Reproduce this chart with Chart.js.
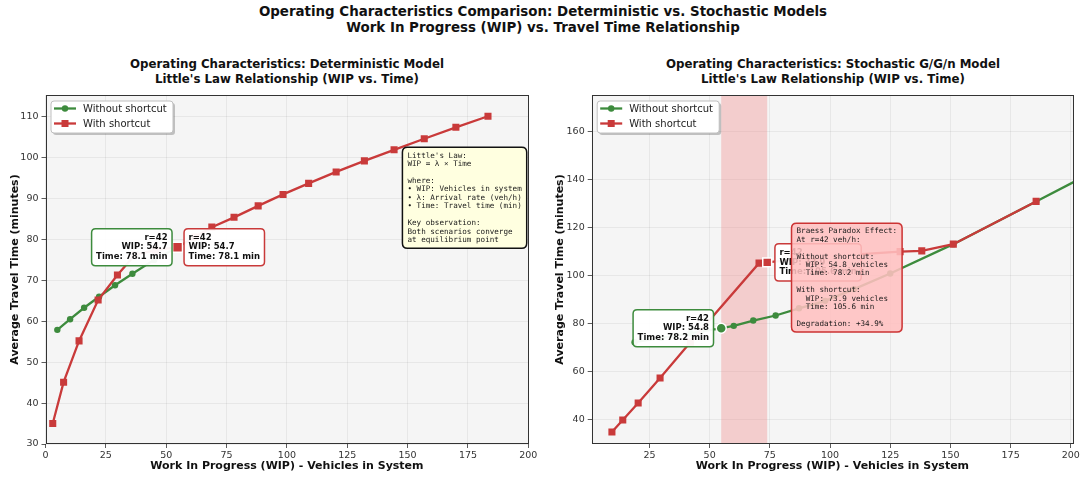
<!DOCTYPE html>
<html><head><meta charset="utf-8">
<script src="https://cdn.jsdelivr.net/npm/chart.js@4.4.1/dist/chart.umd.min.js"></script>
<style>
html,body{margin:0;padding:0;background:#fff;}
body{width:1081px;height:477px;overflow:hidden;position:relative;font-family:'DejaVu Sans',sans-serif;}
.t{position:absolute;text-align:center;font-weight:bold;color:#111;white-space:nowrap;transform:translateX(-50%);}
canvas{position:absolute;top:0;}
</style></head><body>
<div class="t" style="left:543px;top:4px;font-size:13.4px;line-height:16px">Operating Characteristics Comparison: Deterministic vs. Stochastic Models<br>Work In Progress (WIP) vs. Travel Time Relationship</div>
<div class="t" style="left:287px;top:57px;font-size:11.8px;line-height:15px">Operating Characteristics: Deterministic Model<br>Little's Law Relationship (WIP vs. Time)</div>
<div class="t" style="left:833px;top:57px;font-size:11.8px;line-height:15px">Operating Characteristics: Stochastic G/G/n Model<br>Little's Law Relationship (WIP vs. Time)</div>
<canvas id="c1" width="545" height="477" style="left:0"></canvas>
<canvas id="c2" width="536" height="477" style="left:545px"></canvas>
<script>
// ---------------- data ----------------
const rate = 42;
// Deterministic model
const detNoShortcutWIP  = [4.9, 10.2, 16.0, 22.2, 28.8, 36.0, 45.0, 54.7];
const detNoShortcutTime = [57.9, 60.5, 63.3, 66.0, 68.8, 71.6, 75.0, 78.1];
const detShortcutWIP  = [3.0, 7.5, 13.9, 21.8, 29.8, 37.0, 45.5, 54.7, 62.0, 68.9, 78.1, 88.1, 98.4, 109.0, 120.4, 132.1, 144.4, 156.9, 170.0, 183.3];
const detShortcutTime = [35.0, 45.1, 55.2, 65.2, 71.3, 76.2, 77.4, 78.1, 80.6, 83.0, 85.4, 88.2, 91.0, 93.7, 96.5, 99.2, 101.9, 104.6, 107.4, 110.1];
const detPointNoShortcut = [54.7, 78.1];
const detPointShortcut   = [54.7, 78.1];
// Stochastic G/G/n model
const stoNoShortcutWIP  = [18.8, 30.0, 42.0, 55.0, 60.0, 68.1, 77.4, 87.1, 98.0, 110.0, 125.0, 151.2, 185.6, 222.0];
const stoNoShortcutTime = [72.4, 74.2, 76.1, 78.2, 79.2, 81.4, 83.5, 86.5, 89.6, 94.5, 101.0, 113.2, 131.0, 149.8];
const stoShortcutWIP  = [9.4, 13.9, 20.3, 29.4, 42.0, 70.5, 100.0, 129.1, 138.1, 151.2, 185.6];
const stoShortcutTime = [35.0, 40.0, 47.1, 57.5, 72.4, 105.3, 108.2, 110.1, 110.4, 113.2, 131.0];
const stoPointNoShortcut = [54.8, 78.2];
const stoPointShortcut   = [73.9, 105.6];
const stoDegradation = '+34.9%';
// tick labels
const detXTicks = [0, 25, 50, 75, 100, 125, 150, 175, 200];
const detYTicks = [30, 40, 50, 60, 70, 80, 90, 100, 110];
const stoXTicks = [25, 50, 75, 100, 125, 150, 175, 200];
const stoYTicks = [40, 60, 80, 100, 120, 140, 160];
// axis ranges
const detXRange = [0, 200];
const detYRange = [30, 115.3];
const stoXRange = [1, 201];
const stoYRange = [30, 175.3];

// ---------------- style ----------------
const FONT = "'DejaVu Sans', sans-serif";
const MONO = "'DejaVu Sans Mono', monospace";
const GREEN = '#3d8b3d';
const RED = '#c93a3a';

function pts(xs, ys){ return xs.map((x,i)=>({x:x, y:ys[i]})); }
function seriesDS(label, xs, ys, color, style, r, order){
  return {label, data: pts(xs,ys), borderColor: color, backgroundColor: color,
    borderWidth: 2.3, pointStyle: style, pointRadius: r, pointHoverRadius: r,
    pointBorderWidth: 0, showLine: true, fill: false, tension: 0, order};
}
function markDS(p, color, style, r){
  return {label: '_mark', data: [{x:p[0], y:p[1]}], borderColor: '#fff', backgroundColor: color,
    pointStyle: style, pointRadius: r, pointHoverRadius: r, pointBorderWidth: 1.5, showLine: false, order: 0};
}
function rr(ctx, x, y, w, h, r){
  ctx.beginPath();
  ctx.moveTo(x+r, y); ctx.lineTo(x+w-r, y); ctx.quadraticCurveTo(x+w, y, x+w, y+r);
  ctx.lineTo(x+w, y+h-r); ctx.quadraticCurveTo(x+w, y+h, x+w-r, y+h);
  ctx.lineTo(x+r, y+h); ctx.quadraticCurveTo(x, y+h, x, y+h-r);
  ctx.lineTo(x, y+r); ctx.quadraticCurveTo(x, y, x+r, y); ctx.closePath();
}

const bgPlugin = {
  id: 'bgArea',
  beforeDraw(chart){
    const {ctx, chartArea:a} = chart;
    ctx.save(); ctx.fillStyle = '#f5f5f5'; ctx.fillRect(a.left, a.top, a.width, a.height); ctx.restore();
  },
  afterDraw(chart){
    const {ctx, chartArea:a} = chart;
    ctx.save(); ctx.strokeStyle = '#333'; ctx.lineWidth = 1;
    ctx.strokeRect(Math.round(a.left)+0.5, Math.round(a.top)+0.5, Math.round(a.width)-1, Math.round(a.height)-1);
    ctx.restore();
  }
};
function bandPlugin(range, color){
  return {
    id: 'band',
    beforeDatasetsDraw(chart){
      const {ctx, chartArea:a, scales:{x}} = chart;
      const x0 = x.getPixelForValue(range[0]), x1 = x.getPixelForValue(range[1]);
      ctx.save(); ctx.fillStyle = color; ctx.fillRect(x0, a.top, x1-x0, a.height); ctx.restore();
    }
  };
}
function notesPlugin(boxes){
  return {
    id: 'notes',
    afterDatasetsDraw(chart){
      const ctx = chart.ctx, a = chart.chartArea, xs = chart.scales.x, ys = chart.scales.y;
      boxes.forEach(b => {
        ctx.save();
        ctx.font = b.font;
        const w = Math.max(...b.lines.map(l => ctx.measureText(l).width)) + 2*b.padX;
        const h = b.lines.length*b.lh + 2*b.padY;
        let left, top;
        if (b.at) {
          const px = xs.getPixelForValue(b.at[0]), py = ys.getPixelForValue(b.at[1]);
          left = b.side === 'left' ? px - b.gap - w : px + b.gap;
          top = py - h/2;
        } else {
          left = a.left + b.fx*a.width - (b.anchorRight ? w : 0);
          top = a.top + b.fy*a.height;
        }
        rr(ctx, left, top, w, h, b.radius);
        ctx.fillStyle = b.bg; ctx.fill();
        ctx.lineWidth = b.bw; ctx.strokeStyle = b.stroke; ctx.stroke();
        ctx.fillStyle = b.ink;
        ctx.textBaseline = 'middle';
        ctx.textAlign = b.align;
        const tx = b.align === 'right' ? left + w - b.padX : left + b.padX;
        b.lines.forEach((l,i) => ctx.fillText(l, tx, top + b.padY + b.lh*(i+0.5)));
        ctx.restore();
      });
    }
  };
}
function legendPlugin(items){
  return {
    id: 'boxLegend',
    afterDraw(chart){
      const {ctx, chartArea:a} = chart;
      const L = a.left + 5.5, T = a.top + 6, W = 122, H = 32;
      ctx.save();
      ctx.fillStyle = 'rgba(0,0,0,0.22)';
      rr(ctx, L+2, T+2, W, H, 3); ctx.fill();
      rr(ctx, L, T, W, H, 3);
      ctx.fillStyle = '#fff'; ctx.fill();
      ctx.strokeStyle = '#c0c0c0'; ctx.lineWidth = 1; ctx.stroke();
      ctx.font = '10px ' + FONT; ctx.textBaseline = 'middle'; ctx.textAlign = 'left';
      items.forEach((it, i) => {
        const y = T + 7.5 + i*15;
        ctx.strokeStyle = it.color; ctx.lineWidth = 2.3;
        ctx.beginPath(); ctx.moveTo(L+3, y); ctx.lineTo(L+25, y); ctx.stroke();
        ctx.fillStyle = it.color;
        if (it.style === 'circle') { ctx.beginPath(); ctx.arc(L+14, y, 3.2, 0, Math.PI*2); ctx.fill(); }
        else { ctx.fillRect(L+14-3.5, y-3.5, 7, 7); }
        ctx.fillStyle = '#222';
        ctx.fillText(it.label, L+32, y+0.5);
      });
      ctx.restore();
    }
  };
}

function makeScales(xr, yr, xt, yt, yAxisWidth){
  return {
    x: {type: 'linear', min: xr[0], max: xr[1],
      ticks: {autoSkip: false, maxRotation: 0, font: {family: FONT, size: 9.5}, color: '#333', padding: 2},
      afterBuildTicks(s){ s.ticks = xt.map(v => ({value: v})); },
      grid: {color: 'rgba(0,0,0,0.07)', lineWidth: 0.8, tickColor: '#333', tickLength: 4},
      border: {display: false},
      title: {display: true, text: 'Work In Progress (WIP) - Vehicles in System',
        font: {family: FONT, size: 11, weight: 'bold'}, color: '#111', padding: {top: 0, bottom: 4}},
      afterFit(s){ s.height = 33; s.paddingLeft = 0; s.paddingRight = 0; }
    },
    y: {type: 'linear', min: yr[0], max: yr[1],
      ticks: {autoSkip: false, font: {family: FONT, size: 9.5}, color: '#333', padding: 3},
      afterBuildTicks(s){ s.ticks = yt.map(v => ({value: v})); },
      grid: {color: 'rgba(0,0,0,0.07)', lineWidth: 0.8, tickColor: '#333', tickLength: 4},
      border: {display: false},
      title: {display: true, text: 'Average Travel Time (minutes)',
        font: {family: FONT, size: 11, weight: 'bold'}, color: '#111', padding: {top: 9, bottom: 0}},
      afterFit(s){ s.width = yAxisWidth; s.paddingTop = 0; s.paddingBottom = 0; }
    }
  };
}
function pointBox(at, side, gap, align, color, lines){
  return {at, side, gap, align, lines, font: 'bold 8.5px ' + FONT, lh: 9.7, padX: 4.5, padY: 4,
    bg: 'rgba(255,255,255,0.95)', stroke: color, bw: 1.5, radius: 4, ink: '#111'};
}
function boxLines(p){
  return ['r=' + rate, 'WIP: ' + p[0].toFixed(1), 'Time: ' + p[1].toFixed(1) + ' min'];
}
const legendItems = [
  {label: 'Without shortcut', color: GREEN, style: 'circle'},
  {label: 'With shortcut', color: RED, style: 'rect'}
];

// ---------------- left chart ----------------
new Chart(document.getElementById('c1'), {
  type: 'line',
  data: {datasets: [
    seriesDS('Without shortcut', detNoShortcutWIP, detNoShortcutTime, GREEN, 'circle', 3.2, 2),
    seriesDS('With shortcut', detShortcutWIP, detShortcutTime, RED, 'rect', 5, 1),
    markDS(detPointShortcut, RED, 'rect', 7)
  ]},
  options: {
    responsive: false, animation: false, events: [],
    layout: {padding: {top: 95, left: 0, right: 16.7, bottom: 0}},
    scales: makeScales(detXRange, detYRange, detXTicks, detYTicks, 45.5),
    plugins: {legend: {display: false}, tooltip: {enabled: false}}
  },
  plugins: [bgPlugin, notesPlugin([
    pointBox(detPointNoShortcut, 'left', 5.5, 'right', GREEN, boxLines(detPointNoShortcut)),
    pointBox(detPointShortcut, 'right', 6.5, 'left', RED, boxLines(detPointShortcut)),
    {fx: 0.9967, fy: 0.15, anchorRight: true, align: 'left', font: '7.6px ' + MONO, lh: 8.45, padX: 5, padY: 4,
     bg: '#ffffe0', stroke: '#111', bw: 1.5, radius: 5, ink: '#1a1a1a',
     lines: ["Little's Law:", 'WIP = λ × Time', '', 'where:', '• WIP: Vehicles in system',
             '• λ: Arrival rate (veh/h)', '• Time: Travel time (min)', '', 'Key observation:',
             'Both scenarios converge', 'at equilibrium point']}
  ]), legendPlugin(legendItems)]
});

// ---------------- right chart ----------------
new Chart(document.getElementById('c2'), {
  type: 'line',
  data: {datasets: [
    seriesDS('Without shortcut', stoNoShortcutWIP, stoNoShortcutTime, GREEN, 'circle', 3.2, 2),
    seriesDS('With shortcut', stoShortcutWIP, stoShortcutTime, RED, 'rect', 5, 1),
    markDS(stoPointNoShortcut, GREEN, 'circle', 5),
    markDS(stoPointShortcut, RED, 'rect', 6.3)
  ]},
  options: {
    responsive: false, animation: false, events: [],
    layout: {padding: {top: 95, left: 0, right: 5.9, bottom: 0}},
    scales: makeScales(stoXRange, stoYRange, stoXTicks, stoYTicks, 46.7),
    plugins: {legend: {display: false}, tooltip: {enabled: false}}
  },
  plugins: [bgPlugin,
    bandPlugin([stoPointNoShortcut[0], stoPointShortcut[0]], 'rgba(240,120,120,0.32)'),
    notesPlugin([
      pointBox(stoPointNoShortcut, 'left', 7.7, 'right', GREEN, boxLines(stoPointNoShortcut)),
      pointBox(stoPointShortcut, 'right', 7.7, 'left', RED, boxLines(stoPointShortcut)),
      {fx: 0.415, fy: 0.3676, anchorRight: false, align: 'left', font: '7.6px ' + MONO, lh: 8.4, padX: 5, padY: 4,
       bg: 'rgba(255,192,192,0.88)', stroke: '#cc3333', bw: 1.5, radius: 5, ink: '#1a1a1a',
       lines: ['Braess Paradox Effect:', 'At r=' + rate + ' veh/h:', '', 'Without shortcut:',
               '  WIP: ' + stoPointNoShortcut[0].toFixed(1) + ' vehicles', '  Time: ' + stoPointNoShortcut[1].toFixed(1) + ' min', '',
               'With shortcut:', '  WIP: ' + stoPointShortcut[0].toFixed(1) + ' vehicles', '  Time: ' + stoPointShortcut[1].toFixed(1) + ' min', '',
               'Degradation: ' + stoDegradation]}
    ]), legendPlugin(legendItems)]
});
</script>
</body></html>
